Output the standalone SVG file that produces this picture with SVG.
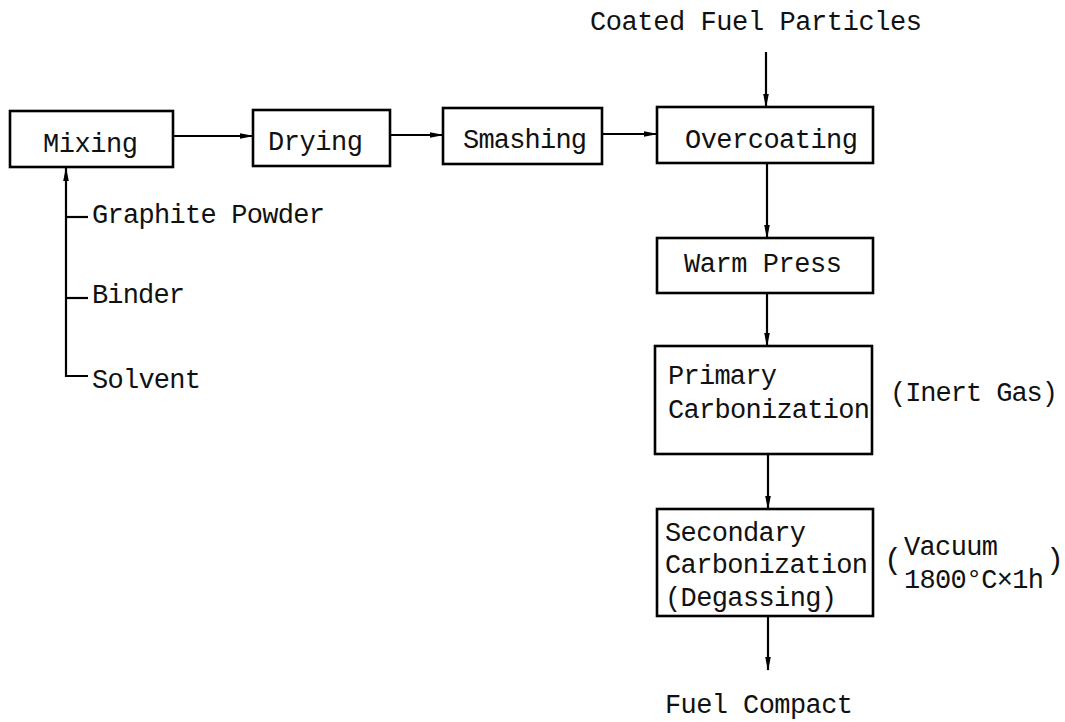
<svg xmlns="http://www.w3.org/2000/svg" width="1065" height="722" viewBox="0 0 1065 722">
<defs>
<marker id="ah" markerWidth="14" markerHeight="8" refX="13" refY="4" orient="auto" markerUnits="userSpaceOnUse">
<path d="M0,1.2 L14,4 L0,6.8 Z" fill="#000"/>
</marker>
<style>
text{font-family:"Liberation Mono","Courier New",monospace;font-size:27px;fill:#111;}
.box{fill:#fff;stroke:#000;stroke-width:2.6;}
.con{fill:none;stroke:#000;stroke-width:2.2;}
.par{font-size:30px;}
</style>
</defs>
<rect width="1065" height="722" fill="#fff"/>
<g id="connectors">
<line class="con" x1="173" y1="136" x2="253" y2="136" marker-end="url(#ah)"/>
<line class="con" x1="390" y1="135" x2="443" y2="135" marker-end="url(#ah)"/>
<line class="con" x1="602" y1="134" x2="657" y2="134" marker-end="url(#ah)"/>
<line class="con" x1="766" y1="52" x2="766" y2="107" marker-end="url(#ah)"/>
<line class="con" x1="767" y1="164" x2="767" y2="238" marker-end="url(#ah)"/>
<line class="con" x1="767" y1="293" x2="767" y2="346" marker-end="url(#ah)"/>
<line class="con" x1="768" y1="454" x2="768" y2="509" marker-end="url(#ah)"/>
<line class="con" x1="768" y1="616" x2="768" y2="670" marker-end="url(#ah)"/>
<path class="con" d="M88,376 L66,376 L66,168" marker-end="url(#ah)"/>
<line class="con" x1="66" y1="217" x2="88" y2="217"/>
<line class="con" x1="66" y1="298" x2="88" y2="298"/>
</g>
<g id="mixing"><rect class="box" x="10" y="111" width="163" height="56"/><text x="43" y="152" textLength="95">Mixing</text></g>
<g id="drying"><rect class="box" x="253" y="110" width="137" height="56"/><text x="268" y="150" textLength="95">Drying</text></g>
<g id="smashing"><rect class="box" x="443" y="108" width="159" height="56"/><text x="463" y="148" textLength="124">Smashing</text></g>
<g id="overcoating"><rect class="box" x="657" y="107" width="216" height="56"/><text x="685" y="148" textLength="173">Overcoating</text></g>
<g id="warm-press"><rect class="box" x="657" y="238" width="216" height="55"/><text x="684" y="272" textLength="158">Warm Press</text></g>
<g id="primary"><rect class="box" x="655" y="346" width="217" height="108"/><text x="668" y="384" textLength="109">Primary</text><text x="668" y="418" textLength="202">Carbonization</text></g>
<g id="secondary"><rect class="box" x="657" y="509" width="216" height="107"/><text x="665" y="541" textLength="141">Secondary</text><text x="665" y="573" textLength="203">Carbonization</text><text x="665" y="606" textLength="172">(Degassing)</text></g>
<g id="labels">
<text x="590" y="30" textLength="332">Coated Fuel Particles</text>
<text x="92" y="223" textLength="233">Graphite Powder</text>
<text x="92" y="303" textLength="93">Binder</text>
<text x="92" y="388" textLength="109">Solvent</text>
<text x="890" y="401" textLength="168">(Inert Gas)</text>
<text class="par" x="884" y="569">(</text>
<text x="904" y="555" textLength="94">Vacuum</text>
<text x="904" y="588" textLength="140">1800°C×1h</text>
<text class="par" x="1046" y="569">)</text>
<text x="665" y="713" textLength="188">Fuel Compact</text>
</g>
</svg>
